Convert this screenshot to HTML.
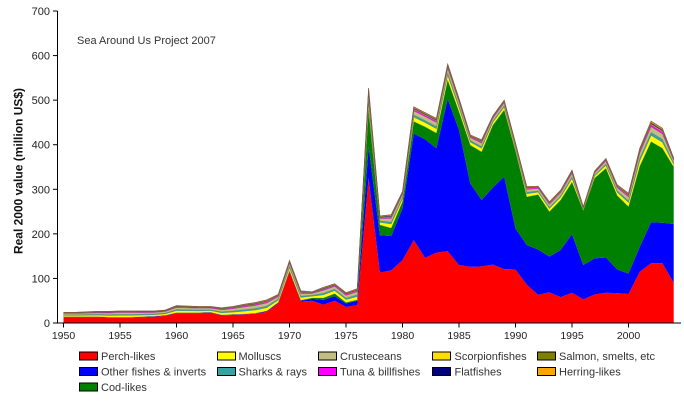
<!DOCTYPE html>
<html><head><meta charset="utf-8"><style>
html,body{margin:0;padding:0;background:#fff;}
svg{display:block;font-family:"Liberation Sans",Arial,sans-serif;}
</style></head><body>
<svg id="c" width="684" height="409" viewBox="0 0 684 409" xmlns="http://www.w3.org/2000/svg">
<g id="areas"></g>
<g stroke="#000" stroke-width="1" fill="none">
<line x1="57.5" y1="11" x2="57.5" y2="323.5"/>
<line x1="57" y1="323" x2="681" y2="323"/>
</g>
<g id="ticks" stroke="#000" stroke-width="1"></g>
<g id="labels" fill="#222"></g>
<text x="77" y="44" font-size="11" fill="#333">Sea Around Us Project 2007</text>
<text transform="translate(22.5,171) rotate(-90)" text-anchor="middle" font-size="12" font-weight="bold" fill="#111">Real 2000 value (million US$)</text>
<g font-size="11" fill="#333">
<rect x="79.5" y="352" width="18" height="8" fill="#FF0000" stroke="#000"/><text x="101" y="360">Perch-likes</text>
<rect x="79.5" y="367.5" width="18" height="8" fill="#0000FF" stroke="#000"/><text x="101" y="375.5">Other fishes &amp; inverts</text>
<rect x="79.5" y="383" width="18" height="8" fill="#008000" stroke="#000"/><text x="101" y="391">Cod-likes</text>
<rect x="217.5" y="352" width="18" height="8" fill="#FFFF00" stroke="#000"/><text x="238.5" y="360">Molluscs</text>
<rect x="217.5" y="367.5" width="18" height="8" fill="#33A3A3" stroke="#000"/><text x="238.5" y="375.5">Sharks &amp; rays</text>
<rect x="318.5" y="352" width="18" height="8" fill="#C0BE80" stroke="#000"/><text x="340" y="360">Crusteceans</text>
<rect x="318.5" y="367.5" width="18" height="8" fill="#FF00FF" stroke="#000"/><text x="340" y="375.5">Tuna &amp; billfishes</text>
<rect x="432.5" y="352" width="18" height="8" fill="#FFDD00" stroke="#000"/><text x="454.5" y="360">Scorpionfishes</text>
<rect x="432.5" y="367.5" width="18" height="8" fill="#000080" stroke="#000"/><text x="454.5" y="375.5">Flatfishes</text>
<rect x="537.5" y="352" width="18" height="8" fill="#808000" stroke="#000"/><text x="559" y="360">Salmon, smelts, etc</text>
<rect x="537.5" y="367.5" width="18" height="8" fill="#FFA500" stroke="#000"/><text x="559" y="375.5">Herring-likes</text>
</g>
</svg>
<script>
(function(){
var NS="http://www.w3.org/2000/svg";
var red=[13,13,13,13,12,12,12,13,14,16,22,22,22,23,17,18,19,21,25,44,115,48,50,41,50,36,40,325,113,118,141,186,146,158,161,130,126,127,131,121,120,86,63,69,58,68,53,64,68,67,65,115,134,134,90];
var blue=[14,14,14,14,13,13,13,14,15,17,23,23,23,24,18,19,20,22,27,46,117,50,54,52,60,44,50,396,197,195,257,425,412,392,502,433,313,276,304,328,212,175,165,149,164,199,130,145,147,120,111,171,226,225,222];
var green=[14,14,14,14,13,13,13,14,15,17,23,23,23,24,18,19,20,22,27,46,117,51,56,56,66,46,52,478,220,213,272,452,440,426,545,474,399,384,444,478,386,283,288,250,276,316,252,325,347,286,261,352,407,392,350];
var total=[24,24,25,26,26,27,27,27,27,29,39,38,37,37,34,37,42,46,52,64,140,72,70,80,88,68,77,527,240,243,295,485,472,459,581,504,422,411,465,500,404,306,307,272,298,343,261,341,369,310,291,392,453,437,370];
var thin=[["#FFFF00",.3],["#33A3A3",.15],["#C0BE80",.27],["#FF00FF",.1],["#FFDD00",.04],["#000080",.04],["#808000",.04],["#FFA500",.06]];
function X(i){return 63.5+i*11.3;}
function Y(v){return 323-v*0.4457;}
var n=red.length;
var layers=[];
var zero=[];for(var i=0;i<n;i++)zero.push(0);
layers.push(["#FF0000",zero,red,false]);
layers.push(["#0000FF",red,blue,false]);
layers.push(["#008000",blue,green,false]);
var prev=green.slice();
for(var k=0;k<thin.length;k++){
 var cur=[];
 for(var i=0;i<n;i++){cur.push(prev[i]+(total[i]-green[i])*thin[k][1]);}
 layers.push([thin[k][0],prev,cur,true]);
 prev=cur;
}
var g=document.getElementById("areas");
layers.forEach(function(L){
 var pts=[];
 for(var i=0;i<n;i++)pts.push(X(i).toFixed(2)+","+Y(L[2][i]).toFixed(2));
 for(var i=n-1;i>=0;i--)pts.push(X(i).toFixed(2)+","+Y(L[1][i]).toFixed(2));
 var p=document.createElementNS(NS,"polygon");
 p.setAttribute("points",pts.join(" "));
 p.setAttribute("fill",L[0]);
 if(L[3]){p.setAttribute("stroke","#6a5a50");p.setAttribute("stroke-width","0.35");p.setAttribute("stroke-opacity","0.6");}
 g.appendChild(p);
});
// top outline
var tp=[];for(var i=0;i<n;i++)tp.push(X(i).toFixed(2)+","+Y(total[i]).toFixed(2));
var pl=document.createElementNS(NS,"polyline");
pl.setAttribute("points",tp.join(" "));pl.setAttribute("fill","none");pl.setAttribute("stroke","#7a5a40");pl.setAttribute("stroke-width","0.7");
g.appendChild(pl);
var t=document.getElementById("ticks"),lb=document.getElementById("labels");
for(var v=0;v<=700;v+=100){
 var y=Y(v);
 var l=document.createElementNS(NS,"line");
 l.setAttribute("x1","53");l.setAttribute("x2","57.5");l.setAttribute("y1",y);l.setAttribute("y2",y);t.appendChild(l);
 var tx=document.createElementNS(NS,"text");
 tx.setAttribute("x","50");tx.setAttribute("y",(y+4).toFixed(1));tx.setAttribute("text-anchor","end");tx.setAttribute("font-size","11");
 tx.textContent=String(v);lb.appendChild(tx);
}
for(var yr=1950;yr<=2000;yr+=5){
 var x=X(yr-1950);
 var l=document.createElementNS(NS,"line");
 l.setAttribute("x1",x);l.setAttribute("x2",x);l.setAttribute("y1","323");l.setAttribute("y2","327.5");t.appendChild(l);
 var tx=document.createElementNS(NS,"text");
 tx.setAttribute("x",x);tx.setAttribute("y","339");tx.setAttribute("text-anchor","middle");tx.setAttribute("font-size","10.5");
 tx.textContent=String(yr);lb.appendChild(tx);
}
})();
</script>
</body></html>
